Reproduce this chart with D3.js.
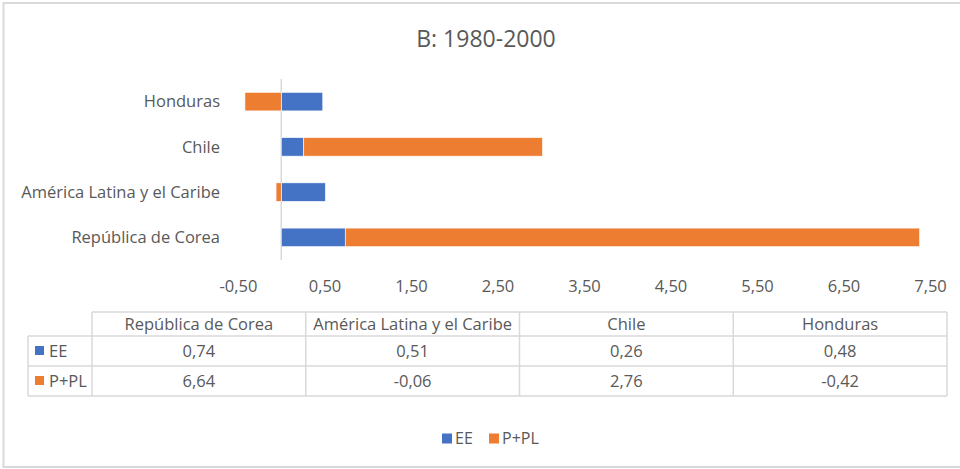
<!DOCTYPE html>
<html>
<head>
<meta charset="utf-8">
<script src="https://cdn.jsdelivr.net/npm/d3@7"></script>
<style>
  body { margin: 0; background: #fff; }
  svg text { font-family: "Open Sans", "Noto Sans", sans-serif; fill: #595959; }
</style>
</head>
<body>
<div id="chart"></div>
<script>
// data
const categories = ["República de Corea", "América Latina y el Caribe", "Chile", "Honduras"];
const seriesNames = ["EE", "P+PL"];
const eeValues = [0.74, 0.51, 0.26, 0.48];
const pplValues = [6.64, -0.06, 2.76, -0.42];
const tickValues = [-0.5, 0.5, 1.5, 2.5, 3.5, 4.5, 5.5, 6.5, 7.5];
const title = "B: 1980-2000";

const colors = { "EE": "#4472C4", "P+PL": "#ED7D31" };
const W = 960, H = 469;
const fontSize = "16.5px";

// spanish style numbers, plain hyphen for the minus sign
const locale = d3.formatLocale({ decimal: ",", thousands: ".", grouping: [3], currency: ["", "€"], minus: "-" });
const fmt = locale.format(".2f");

const rows = categories.map((c, i) => ({ name: c, "EE": eeValues[i], "P+PL": pplValues[i] }));

const svg = d3.select("#chart").append("svg")
    .attr("width", W)
    .attr("height", H);

// chart frame (no right edge visible)
svg.append("rect")
    .attr("x", 3.5).attr("y", 3)
    .attr("width", W + 10).attr("height", 464)
    .attr("fill", "none")
    .attr("stroke", "#d9d9d9")
    .attr("stroke-width", 2);

svg.append("text")
    .attr("x", 486).attr("y", 47)
    .attr("text-anchor", "middle")
    .style("font-size", "23px")
    .text(title);

// scales
const x = d3.scaleLinear()
    .domain([-0.5, 7.5])
    .range([238, 930]);

const y = d3.scaleBand()
    .domain(categories.slice().reverse())
    .range([79, 260])
    .paddingInner(0.59)
    .paddingOuter(0.295);

// zero line
svg.append("line")
    .attr("x1", x(0)).attr("x2", x(0))
    .attr("y1", 79).attr("y2", 260)
    .attr("stroke", "#d9d9d9")
    .attr("stroke-width", 1.5);

// stacked bars, negatives go left of zero
const stack = d3.stack()
    .keys(seriesNames)
    .offset(d3.stackOffsetDiverging);

const layers = svg.append("g").selectAll("g")
    .data(stack(rows))
    .enter().append("g")
    .attr("fill", d => colors[d.key]);

layers.selectAll("rect")
    .data(d => d)
    .enter().append("rect")
    .attr("x", d => x(Math.min(d[0], d[1])))
    .attr("y", d => y(d.data.name))
    .attr("width", d => Math.abs(x(d[1]) - x(d[0])))
    .attr("height", y.bandwidth())
    .attr("stroke", "#fff")
    .attr("stroke-width", 0.6);

// category labels
svg.append("g").selectAll("text")
    .data(categories)
    .enter().append("text")
    .attr("x", 220)
    .attr("y", d => y(d) + y.bandwidth() / 2)
    .attr("dy", "0.35em")
    .attr("text-anchor", "end")
    .style("font-size", fontSize)
    .text(d => d);

// value axis
const axis = svg.append("g")
    .attr("transform", "translate(0,270)")
    .call(d3.axisBottom(x).tickValues(tickValues).tickFormat(fmt).tickSize(0).tickPadding(0));
axis.select(".domain").remove();
axis.attr("font-family", null).attr("font-size", null);
axis.selectAll("text")
    .attr("dy", "0.35em")
    .attr("y", 16)
    .attr("fill", null)
    .style("font-size", fontSize);

// data table
const col = d3.scaleBand()
    .domain(categories)
    .range([92, 947]);
const tableTop = 312, headH = 24, rowH = 30, tableLeft = 28;
const tableBottom = tableTop + headH + rowH * 2;
const grid = svg.append("g")
    .attr("stroke", "#d9d9d9")
    .attr("stroke-width", 1.5);

grid.append("line")
    .attr("x1", col.range()[0]).attr("x2", col.range()[1])
    .attr("y1", tableTop).attr("y2", tableTop);
[0, 1, 2].forEach(r => {
    const yy = tableTop + headH + rowH * r;
    grid.append("line")
        .attr("x1", tableLeft).attr("x2", col.range()[1])
        .attr("y1", yy).attr("y2", yy);
});
grid.append("line")
    .attr("x1", tableLeft).attr("x2", tableLeft)
    .attr("y1", tableTop + headH).attr("y2", tableBottom);
categories.concat([null]).forEach(c => {
    const xx = c ? col(c) : col.range()[1];
    grid.append("line")
        .attr("x1", xx).attr("x2", xx)
        .attr("y1", tableTop).attr("y2", tableBottom);
});

svg.append("g").selectAll("text")
    .data(categories)
    .enter().append("text")
    .attr("x", d => col(d) + col.bandwidth() / 2)
    .attr("y", tableTop + headH / 2)
    .attr("dy", "0.35em")
    .attr("text-anchor", "middle")
    .style("font-size", fontSize)
    .text(d => d);

const valueRows = [eeValues, pplValues];
seriesNames.forEach((s, r) => {
    const cy = tableTop + headH + rowH * r + rowH / 2;
    svg.append("rect")
        .attr("x", 35).attr("y", cy - 5)
        .attr("width", 9).attr("height", 9)
        .attr("fill", colors[s]);
    svg.append("text")
        .attr("x", 49).attr("y", cy)
        .attr("dy", "0.35em")
        .style("font-size", fontSize)
        .text(s);
    svg.append("g").selectAll("text")
        .data(valueRows[r])
        .enter().append("text")
        .attr("x", (d, i) => col(categories[i]) + col.bandwidth() / 2)
        .attr("y", cy)
        .attr("dy", "0.35em")
        .attr("text-anchor", "middle")
        .style("font-size", fontSize)
        .text(d => fmt(d));
});

// legend
const legend = svg.append("g").attr("transform", "translate(442,438.5)");
const legendX = [0, 47];
seriesNames.forEach((s, i) => {
    legend.append("rect")
        .attr("x", legendX[i]).attr("y", -5)
        .attr("width", 10).attr("height", 10)
        .attr("fill", colors[s]);
    legend.append("text")
        .attr("x", legendX[i] + 13).attr("y", 0)
        .attr("dy", "0.35em")
        .style("font-size", "16px")
        .text(s);
});
</script>
</body>
</html>
